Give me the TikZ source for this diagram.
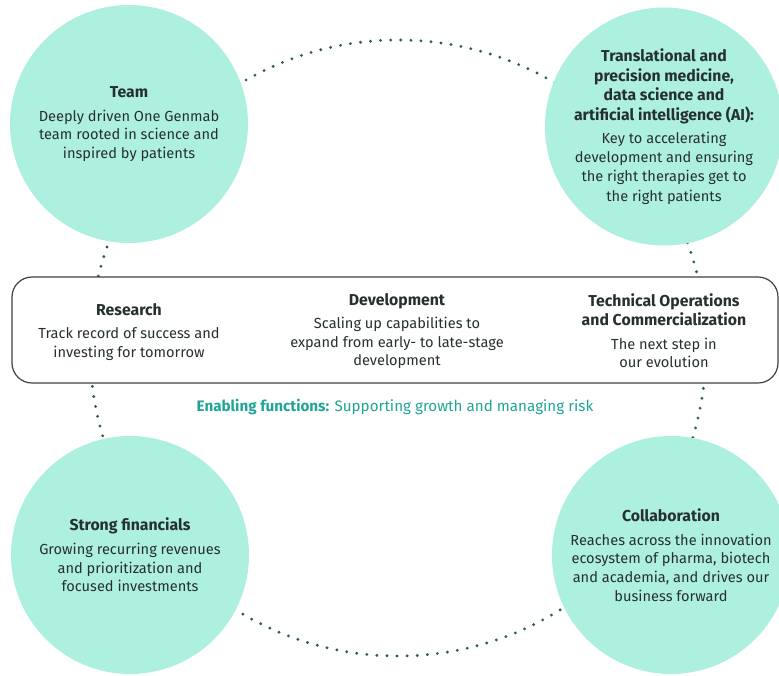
\documentclass[tikz,border=0pt]{standalone}
\usepackage{fontspec}
\setmainfont{Fira Sans}
\definecolor{mint}{HTML}{ADF0DF}
\definecolor{dotc}{HTML}{2B5E5A}
\definecolor{txt}{HTML}{26302F}
\definecolor{tealtxt}{HTML}{1FA595}
\newcommand{\ttl}[1]{{\fontsize{15.8}{19}\selectfont\bfseries #1}}
\begin{document}
\begin{tikzpicture}[x=1pt,y=-1pt,
  bubble/.style={circle,fill=mint,minimum size=238pt,inner sep=0pt,align=center,text=txt,
    font=\fontsize{14.6}{18.6}\selectfont},
  pillar/.style={align=center,text=txt,font=\fontsize{14.6}{18.6}\selectfont},
  ring/.style={draw=dotc,line width=3.2pt,line cap=round,dash pattern=on 0pt off 10.1pt}]
\useasboundingbox (0,0) rectangle (779,675);
\draw[ring] (398,348) circle[radius=308];
\node[bubble] (team) at (129,124) {\ttl{Team}\\[5pt]Deeply driven One Genmab\\team rooted in science and\\inspired by patients};
\node[bubble,font=\fontsize{14.6}{19.3}\selectfont] (trans) at (664,126.5) {\ttl{Translational and}\\[0.3pt]\ttl{precision medicine,}\\[0.3pt]\ttl{data science and}\\[0.3pt]\ttl{artificial intelligence (AI):}\\[3.5pt]Key to accelerating\\development and ensuring\\the right therapies get to\\the right patients};
\node[bubble] (fin) at (130,555) {\ttl{Strong financials}\\[5pt]Growing recurring revenues\\and prioritization and\\focused investments};
\node[bubble] (collab) at (671,555) {\ttl{Collaboration}\\[5pt]Reaches across the innovation\\ecosystem of pharma, biotech\\and academia, and drives our\\business forward};
\node[draw=black!75,line width=1.2pt,fill=white,rounded corners=20pt,minimum width=766pt,minimum height=106pt] (band) at (395,330) {};
\node[pillar] (res) at (129,332) {\ttl{Research}\\[5pt]Track record of success and\\investing for tomorrow};
\node[pillar] (dev) at (397,331) {\ttl{Development}\\[5pt]Scaling up capabilities to\\expand from early- to late-stage\\development};
\node[pillar] (tech) at (664,331) {\ttl{Technical Operations}\\\ttl{and Commercialization}\\[5pt]The next step in\\our evolution};
\node[text=tealtxt,font=\fontsize{15.2}{16}\selectfont] (enab) at (395,407) {\textbf{Enabling functions:} Supporting growth and managing risk};
\end{tikzpicture}
\end{document}
